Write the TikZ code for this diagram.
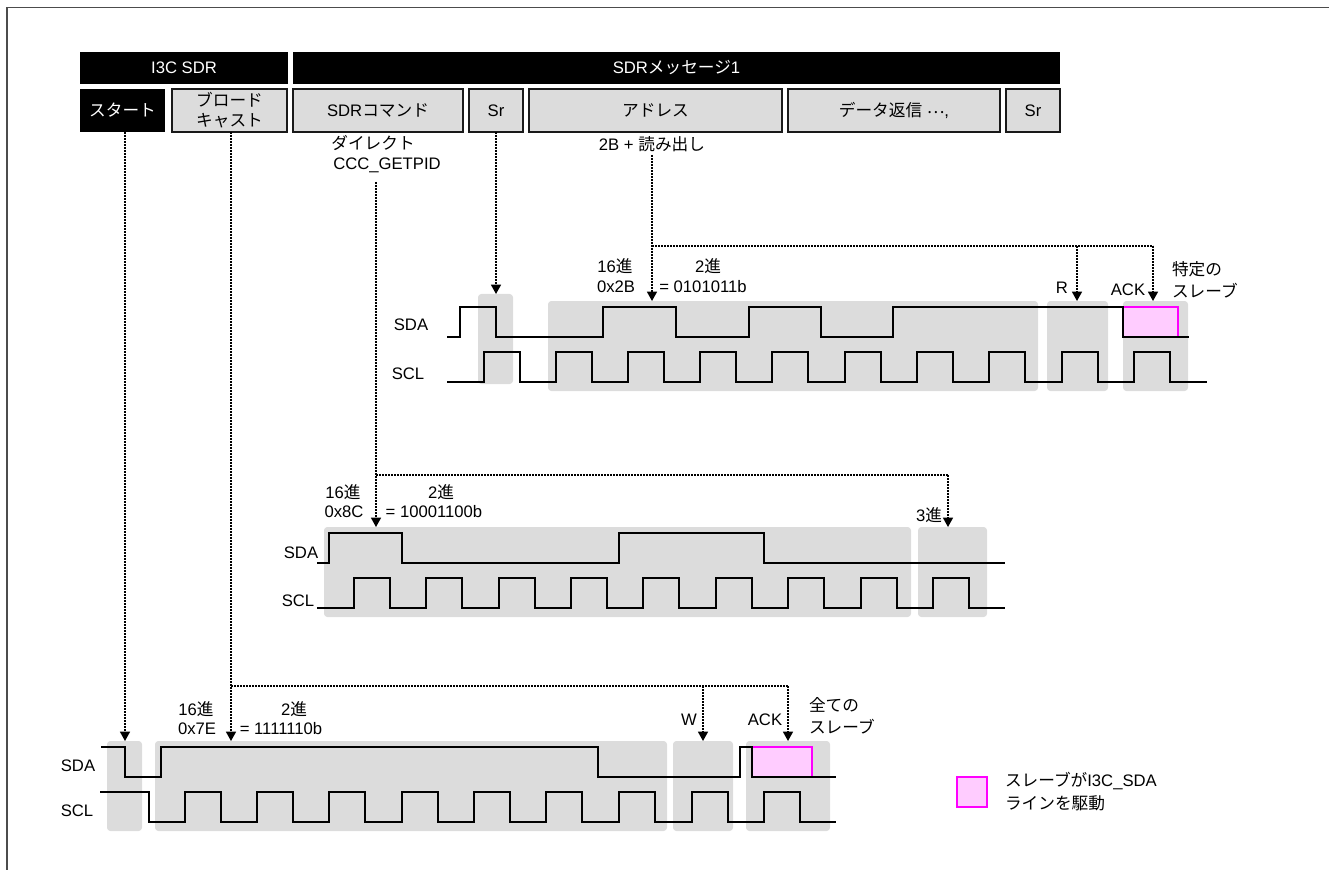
\documentclass[tikz,border=0pt]{standalone}
\usepackage{fontspec}
\usetikzlibrary{arrows.meta}
\setmainfont{Liberation Sans}
\newfontfamily\cjk{Noto Sans CJK JP}
\newcommand{\jp}[1]{{\cjk #1}}
\definecolor{zonegray}{HTML}{DCDCDC}
\definecolor{slavepink}{HTML}{FFCCFF}
\definecolor{slaveline}{HTML}{FF00FF}
\begin{document}
\begin{tikzpicture}[
x=0.75pt, y=-0.75pt,
every node/.style={font=\fontsize{12.5}{15}\selectfont, inner sep=0pt, outer sep=0pt},
frameline/.style={draw=black!70, line width=1.3pt},
blackbar/.style={fill=black, text=white, minimum height=24pt, anchor=north west, align=center},
headbox/.style={draw=black!90, line width=1pt, fill=zonegray, minimum height=32.25pt, anchor=north west, align=center},
startbox/.style={fill=black, text=white, minimum height=32.25pt, anchor=north west, align=center},
wd/.style={minimum width=#1*0.75pt},
bitzone/.style={fill=zonegray, rounded corners=2.5pt},
wave/.style={draw=black, line width=1pt, line join=miter},
slavebox/.style={draw=slaveline, fill=slavepink, line width=1pt},
guide/.style={draw=black, line width=1.05pt, dash pattern=on 1.2pt off 1.05pt},
guidearrow/.style={guide, -{Triangle[width=7.5pt,length=7pt]}},
lab/.style={anchor=center},
labw/.style={anchor=west, align=left}
]

\useasboundingbox (0,0) rectangle (1329,870);

% =====================================================
% Header
% =====================================================

\node[blackbar, wd=208] (barI) at (80,52) {I3C SDR};
\node[blackbar, wd=767] (barMsg) at (293,52) {SDR\jp{メッセージ}1};

\node[startbox, wd=85] (boxStart) at (80,89) {\jp{スタート}};
\node[headbox, wd=115] (boxBroad) at (172,89) {\jp{ブロード}\\\jp{キャスト}};
\node[headbox, wd=170] (boxCmd) at (293,89) {SDR\jp{コマンド}};
\node[headbox, wd=54] (boxSrA) at (469,89) {Sr};
\node[headbox, wd=253] (boxAddr) at (529,89) {\jp{アドレス}};
\node[headbox, wd=212] (boxData) at (788,89) {\jp{データ返信} \raisebox{2pt}{\jp{⋯}},};
\node[headbox, wd=54] (boxSrB) at (1006,89) {Sr};

\node[lab] (labDirect) at (373,143) {\jp{ダイレクト}};
\node[lab] (labGetpid) at (387,165) {CCC\_GETPID};
\node[lab] (labRead) at (652,144) {2B + \jp{読み出し}};

% =====================================================
% Message waveform
% =====================================================

\fill[bitzone] (478,294) rectangle (513,384);
\fill[bitzone] (548,301) rectangle (1038,391);
\fill[bitzone] (1047,301) rectangle (1108,391);
\fill[bitzone] (1123,301) rectangle (1188,391);
\path[slavebox] (1123,307) rectangle (1178,337);

% SDA
\draw[wave] (447,337) -- (460,337) -- (460,307) -- (496,307) -- (496,337)
  -- (603,337) -- (603,307) -- (676,307) -- (676,337) -- (749,337) -- (749,307)
  -- (821,307) -- (821,337) -- (893,337) -- (893,307) -- (1123,307) -- (1123,337)
  -- (1189,337);
% SCL
\draw[wave] (447,382)
  \foreach \u in {484,556,628,700,772,845,917,989,1062,1134}{
    -- (\u,382) -- (\u,352) -- (\u+36,352) -- (\u+36,382)
  } -- (1207,382);

\node[lab] (sdaA) at (411,325) {SDA};
\node[lab] (sclA) at (408,374) {SCL};
\node[lab] (hexA) at (615,266) {16\jp{進}};
\node[lab] (hexvalA) at (616,287) {0x2B};
\node[lab] (binA) at (708,266) {2\jp{進}};
\node[lab] (binvalA) at (703,287) {= 0101011b};
\node[lab] (labR) at (1062,288) {R};
\node[lab] (labAckA) at (1128,290) {ACK};
\node[labw] (labOne) at (1172,269) {\jp{特定の}};
\node[labw] (labOneB) at (1172,291) {\jp{スレーブ}};

% =====================================================
% Command waveform
% =====================================================

\fill[bitzone] (324,527) rectangle (911,617);
\fill[bitzone] (918,527) rectangle (987,617);

% SDA
\draw[wave] (317,563) -- (329,563) -- (329,533) -- (402,533) -- (402,563)
  -- (619,563) -- (619,533) -- (764,533) -- (764,563) -- (1005,563);
% SCL
\draw[wave] (317,608)
  \foreach \u in {354,426,499,571,643,716,788,861,933}{
    -- (\u,608) -- (\u,578) -- (\u+36,578) -- (\u+36,608)
  } -- (1005,608);

\node[lab] (sdaB) at (301,553) {SDA};
\node[lab] (sclB) at (298,601) {SCL};
\node[lab] (hexB) at (343,492) {16\jp{進}};
\node[lab] (hexvalB) at (344,512) {0x8C};
\node[lab] (binB) at (441,492) {2\jp{進}};
\node[lab] (binvalB) at (434,512) {= 10001100b};
\node[lab] (labTri) at (929,515) {3\jp{進}};

% =====================================================
% Broadcast waveform
% =====================================================

\fill[bitzone] (107,741) rectangle (142,831);
\fill[bitzone] (155,741) rectangle (667,831);
\fill[bitzone] (673,741) rectangle (733,831);
\fill[bitzone] (746,741) rectangle (830,831);
\path[slavebox] (752,747) rectangle (812,777);

% SDA
\draw[wave] (101,747) -- (125,747) -- (125,777) -- (161,777) -- (161,747) -- (598,747)
  -- (598,777) -- (740,777) -- (740,747) -- (752,747) -- (752,777) -- (836,777);
% SCL
\draw[wave] (100,792) -- (149,792) -- (149,822)
  \foreach \u in {185,257,329,402,474,546,619,692,764}{
    -- (\u,822) -- (\u,792) -- (\u+36,792) -- (\u+36,822)
  } -- (836,822);

\node[lab] (sdaC) at (78,766) {SDA};
\node[lab] (sclC) at (77,811) {SCL};
\node[lab] (hexC) at (196,709) {16\jp{進}};
\node[lab] (hexvalC) at (197,729) {0x7E};
\node[lab] (binC) at (294,709) {2\jp{進}};
\node[lab] (binvalC) at (281,729) {= 1111110b};
\node[lab] (labW) at (689,720) {W};
\node[lab] (labAckB) at (765,720) {ACK};
\node[labw] (labAll) at (809,705) {\jp{全ての}};
\node[labw] (labAllB) at (809,727) {\jp{スレーブ}};

% =====================================================
% Guides
% =====================================================

\coordinate (endStart) at (125,741);
\coordinate (endBroad) at (231,741);
\coordinate (endW) at (703,741);
\coordinate (endAckB) at (788,741);
\coordinate (endSr) at (496,294);
\coordinate (endCmd) at (376,527);
\coordinate (endTri) at (948,527);
\coordinate (endAddr) at (652,301);
\coordinate (endR) at (1077,301);
\coordinate (endAckA) at (1153,301);

\draw[guidearrow] (boxStart.south -| endStart) -- (endStart);
\draw[guidearrow] (boxBroad.south -| endBroad) -- (endBroad);
\draw[guide] (231,686) -- (788,686);
\draw[guidearrow] (703,686) -- (endW);
\draw[guidearrow] (788,686) -- (endAckB);

\draw[guidearrow] (boxSrA.south -| endSr) -- (endSr);

\draw[guidearrow] (376,182) -- (endCmd);
\draw[guide] (376,475) -- (948,475);
\draw[guidearrow] (948,475) -- (endTri);

\draw[guidearrow] (652,155) -- (endAddr);
\draw[guide] (652,246) -- (1153,246);
\draw[guidearrow] (1077,246) -- (endR);
\draw[guidearrow] (1153,246) -- (endAckA);

% =====================================================
% Legend
% =====================================================

\path[slavebox] (957,777) rectangle (987,807);
\node[labw] (legA) at (1005,781) {\jp{スレーブが}I3C\_SDA};
\node[labw] (legB) at (1005,803) {\jp{ラインを駆動}};

% Frame
\draw[frameline] (7,870) -- (7,7.5) -- (1329,7.5);

\end{tikzpicture}
\end{document}
